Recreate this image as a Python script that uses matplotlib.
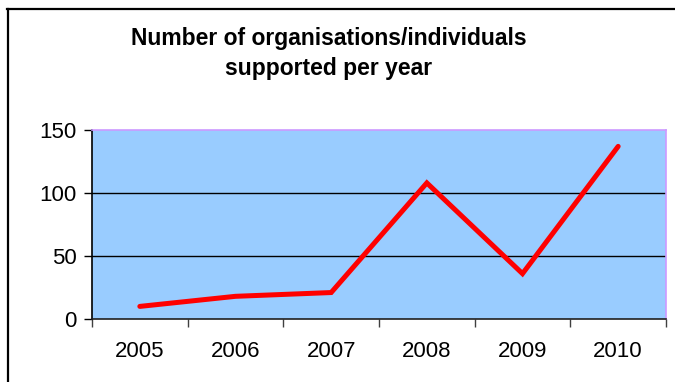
import matplotlib
matplotlib.use("Agg")
import matplotlib.pyplot as plt
from matplotlib.lines import Line2D

# ── Data ───────────────────────────────────────────────────────────────────────
years = ["2005", "2006", "2007", "2008", "2009", "2010"]
supported = [10, 18, 21, 108, 36, 137]
y_ticks = [0, 50, 100, 150]

_C_PLOT = "#99CCFF"
_C_LINE = "#FF0000"
_C_FRAME = "#CC99FF"

plt.rcParams["font.family"] = ["Liberation Sans", "DejaVu Sans"]

fig = plt.figure(figsize=(6.75, 3.82), dpi=100)
ax = fig.add_axes([92 / 675, 1 - 319 / 382, 574 / 675, 189 / 382])

x = list(range(len(years)))
ax.plot(x, supported, color=_C_LINE, lw=3.6, solid_capstyle="round",
        solid_joinstyle="miter", zorder=3)

ax.set_facecolor(_C_PLOT)
ax.set_xlim(-0.5, len(years) - 0.5)
ax.set_ylim(0, 150)
ax.set_yticks(y_ticks)
ax.set_yticklabels([str(v) for v in y_ticks], fontsize=16)
for v in y_ticks[1:-1]:
    ax.axhline(v, color="black", lw=1.0, zorder=2)

# categories sit between ticks, like Excel
ax.set_xticks(x)
ax.set_xticklabels(years, fontsize=16)
ax.tick_params(axis="x", length=0, pad=16)
ax.set_xticks([i - 0.5 for i in range(len(years) + 1)], minor=True)
ax.tick_params(axis="x", which="minor", length=6, width=1, color="#404040")
ax.tick_params(axis="y", length=6, width=1, pad=5)

ax.spines["left"].set_color("black")
ax.spines["bottom"].set_color("#202020")
ax.spines["top"].set_color(_C_FRAME)
ax.spines["right"].set_color(_C_FRAME)
for s in ax.spines.values():
    s.set_linewidth(1.2)

fig.text(0.487, 1 - 38 / 382, "Number of organisations/individuals",
         ha="center", va="center", fontsize=16.5, fontweight="bold")
fig.text(0.487, 1 - 69 / 382, "supported per year",
         ha="center", va="center", fontsize=16.5, fontweight="bold")

# outer chart frame (top and left edges visible)
fig.add_artist(Line2D([7.5 / 675, 7.5 / 675], [0, 1 - 9 / 382],
                      color="black", lw=1.6, transform=fig.transFigure))
fig.add_artist(Line2D([7 / 675, 1], [1 - 9 / 382, 1 - 9 / 382],
                      color="black", lw=1.6, transform=fig.transFigure))

fig.savefig("out.png", dpi=100, facecolor="white")
plt.close(fig)
